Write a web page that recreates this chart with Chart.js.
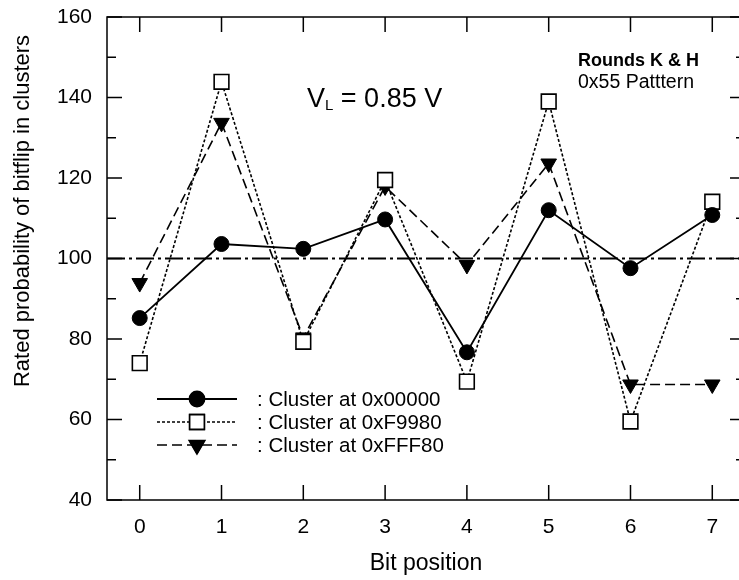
<!DOCTYPE html>
<html>
<head>
<meta charset="utf-8">
<script src="https://cdn.jsdelivr.net/npm/chart.js@4.4.0/dist/chart.umd.min.js"></script>
<style>
  html, body { margin: 0; padding: 0; background: #fff; overflow: hidden; }
  #wrap { width: 739px; height: 580px; overflow: hidden; }
</style>
</head>
<body>
<div id="wrap"><canvas id="c" width="757" height="580"></canvas></div>
<script>
// ---- data ----
const bitPositions = [0, 1, 2, 3, 4, 5, 6, 7];
const cluster00000 = [85.2, 103.6, 102.4, 109.7, 76.7, 112.0, 97.6, 110.8];
const clusterF9980 = [74.0, 143.9, 79.3, 119.5, 69.4, 139.0, 59.5, 114.1];
const clusterFFF80 = [93.9, 133.7, 80.4, 117.9, 98.4, 123.6, 68.7, 68.7];
const seriesLabels = [": Cluster at 0x00000", ": Cluster at 0xF9980", ": Cluster at 0xFFF80"];
const yTicks = [40, 60, 80, 100, 120, 140, 160];
const xRange = [-0.4, 7.4];
const refLevel = 100;

const FONT = "'Liberation Sans', Arial, Helvetica, sans-serif";

function toPoints(ys) {
  return bitPositions.map(function (x, i) { return { x: x, y: ys[i] }; });
}

// frame, inward ticks, annotations and legend
const decorations = {
  id: "decorations",
  afterDraw: function (chart) {
    const ctx = chart.ctx;
    const a = chart.chartArea;
    const xs = chart.scales.x;
    const ys = chart.scales.y;
    ctx.save();
    ctx.strokeStyle = "#000";
    ctx.lineWidth = 1.5;
    ctx.setLineDash([]);
    ctx.strokeRect(a.left, a.top, a.right - a.left, a.bottom - a.top);

    ctx.beginPath();
    yTicks.forEach(function (v, i) {
      const py = ys.getPixelForValue(v);
      ctx.moveTo(a.left, py); ctx.lineTo(a.left + 15, py);
      ctx.moveTo(a.right, py); ctx.lineTo(a.right - 15, py);
      if (i < yTicks.length - 1) {
        const pm = ys.getPixelForValue((v + yTicks[i + 1]) / 2);
        ctx.moveTo(a.left, pm); ctx.lineTo(a.left + 9, pm);
        ctx.moveTo(a.right, pm); ctx.lineTo(a.right - 9, pm);
      }
    });
    bitPositions.forEach(function (v) {
      const px = xs.getPixelForValue(v);
      ctx.moveTo(px, a.bottom); ctx.lineTo(px, a.bottom - 15);
      ctx.moveTo(px, a.top); ctx.lineTo(px, a.top + 15);
    });
    ctx.stroke();

    // y axis title
    ctx.fillStyle = "#000";
    ctx.save();
    ctx.translate(23, 211);
    ctx.rotate(-Math.PI / 2);
    ctx.font = "22px " + FONT;
    ctx.textAlign = "center";
    ctx.textBaseline = "middle";
    ctx.fillText("Rated probability of bitflip in clusters", 0, 0);
    ctx.restore();

    // V_L = 0.85 V
    ctx.textAlign = "left";
    ctx.textBaseline = "alphabetic";
    ctx.font = "27px " + FONT;
    ctx.fillText("V", 307, 107);
    let w = ctx.measureText("V").width;
    ctx.font = "15px " + FONT;
    ctx.fillText("L", 307 + w, 110);
    w += ctx.measureText("L").width;
    ctx.font = "27px " + FONT;
    ctx.fillText(" = 0.85 V", 307 + w, 107);

    ctx.font = "bold 18px " + FONT;
    ctx.fillText("Rounds K & H", 578, 66);
    ctx.font = "19.5px " + FONT;
    ctx.fillText("0x55 Patttern", 578, 88);

    // legend
    const rows = [399, 422, 445];
    chart.data.datasets.slice(0, 3).forEach(function (ds, i) {
      const y = rows[i];
      ctx.strokeStyle = "#000";
      ctx.lineWidth = ds.borderWidth;
      ctx.setLineDash(ds.borderDash || []);
      ctx.beginPath();
      ctx.moveTo(157, y); ctx.lineTo(237, y);
      ctx.stroke();
      ctx.setLineDash([]);
      Chart.helpers.drawPoint(ctx, {
        pointStyle: ds.pointStyle,
        radius: ds.pointRadius,
        rotation: ds.pointRotation || 0,
        borderWidth: ds.pointBorderWidth
      }, 197, y);
      ctx.fillStyle = ds.pointBackgroundColor;
      ctx.strokeStyle = "#000";
      ctx.lineWidth = ds.pointBorderWidth;
      ctx.fill();
      ctx.stroke();
      ctx.fillStyle = "#000";
      ctx.font = "20.5px " + FONT;
      ctx.textBaseline = "middle";
      ctx.fillText(seriesLabels[i], 257, y + 1);
    });
    ctx.restore();
  }
};

new Chart(document.getElementById("c"), {
  type: "line",
  data: {
    datasets: [
      {
        label: seriesLabels[0],
        data: toPoints(cluster00000),
        borderColor: "#000", borderWidth: 1.8,
        pointStyle: "circle", pointRadius: 7.5,
        pointBackgroundColor: "#000", pointBorderColor: "#000", pointBorderWidth: 1
      },
      {
        label: seriesLabels[1],
        data: toPoints(clusterF9980),
        borderColor: "#000", borderWidth: 1.6, borderDash: [3, 2],
        pointStyle: "rect", pointRadius: 10.4,
        pointBackgroundColor: "#fff", pointBorderColor: "#000", pointBorderWidth: 1.6
      },
      {
        label: seriesLabels[2],
        data: toPoints(clusterFFF80),
        borderColor: "#000", borderWidth: 1.6, borderDash: [10, 5],
        pointStyle: "triangle", pointRadius: 9, pointRotation: 180,
        pointBackgroundColor: "#000", pointBorderColor: "#000", pointBorderWidth: 1
      },
      {
        label: "reference",
        data: [{ x: xRange[0], y: refLevel }, { x: xRange[1], y: refLevel }],
        borderColor: "#000", borderWidth: 2, borderDash: [18, 4, 3, 4],
        pointRadius: 0
      }
    ]
  },
  options: {
    responsive: false,
    animation: false,
    devicePixelRatio: 1,
    layout: { padding: { top: 17, right: 5, left: 0, bottom: 0 } },
    plugins: { legend: { display: false }, tooltip: { enabled: false } },
    elements: { line: { tension: 0 } },
    scales: {
      x: {
        type: "linear",
        min: xRange[0], max: xRange[1],
        afterBuildTicks: function (s) { s.ticks = bitPositions.map(function (v) { return { value: v }; }); },
        afterFit: function (s) { s.height = 80; s.paddingLeft = 0; s.paddingRight = 0; },
        grid: { display: false, drawTicks: false },
        border: { display: false },
        ticks: { color: "#000", font: { family: FONT, size: 21 }, padding: 15 },
        title: { display: true, text: "Bit position", color: "#000", font: { family: FONT, size: 23 }, padding: { top: 0, bottom: 3 } }
      },
      y: {
        type: "linear",
        min: yTicks[0], max: yTicks[yTicks.length - 1],
        afterBuildTicks: function (s) { s.ticks = yTicks.map(function (v) { return { value: v }; }); },
        afterFit: function (s) { s.width = 107; s.paddingTop = 0; s.paddingBottom = 0; },
        grid: { display: false, drawTicks: false },
        border: { display: false },
        ticks: { color: "#000", font: { family: FONT, size: 21 }, padding: 15 }
      }
    }
  },
  plugins: [decorations]
});
</script>
</body>
</html>
